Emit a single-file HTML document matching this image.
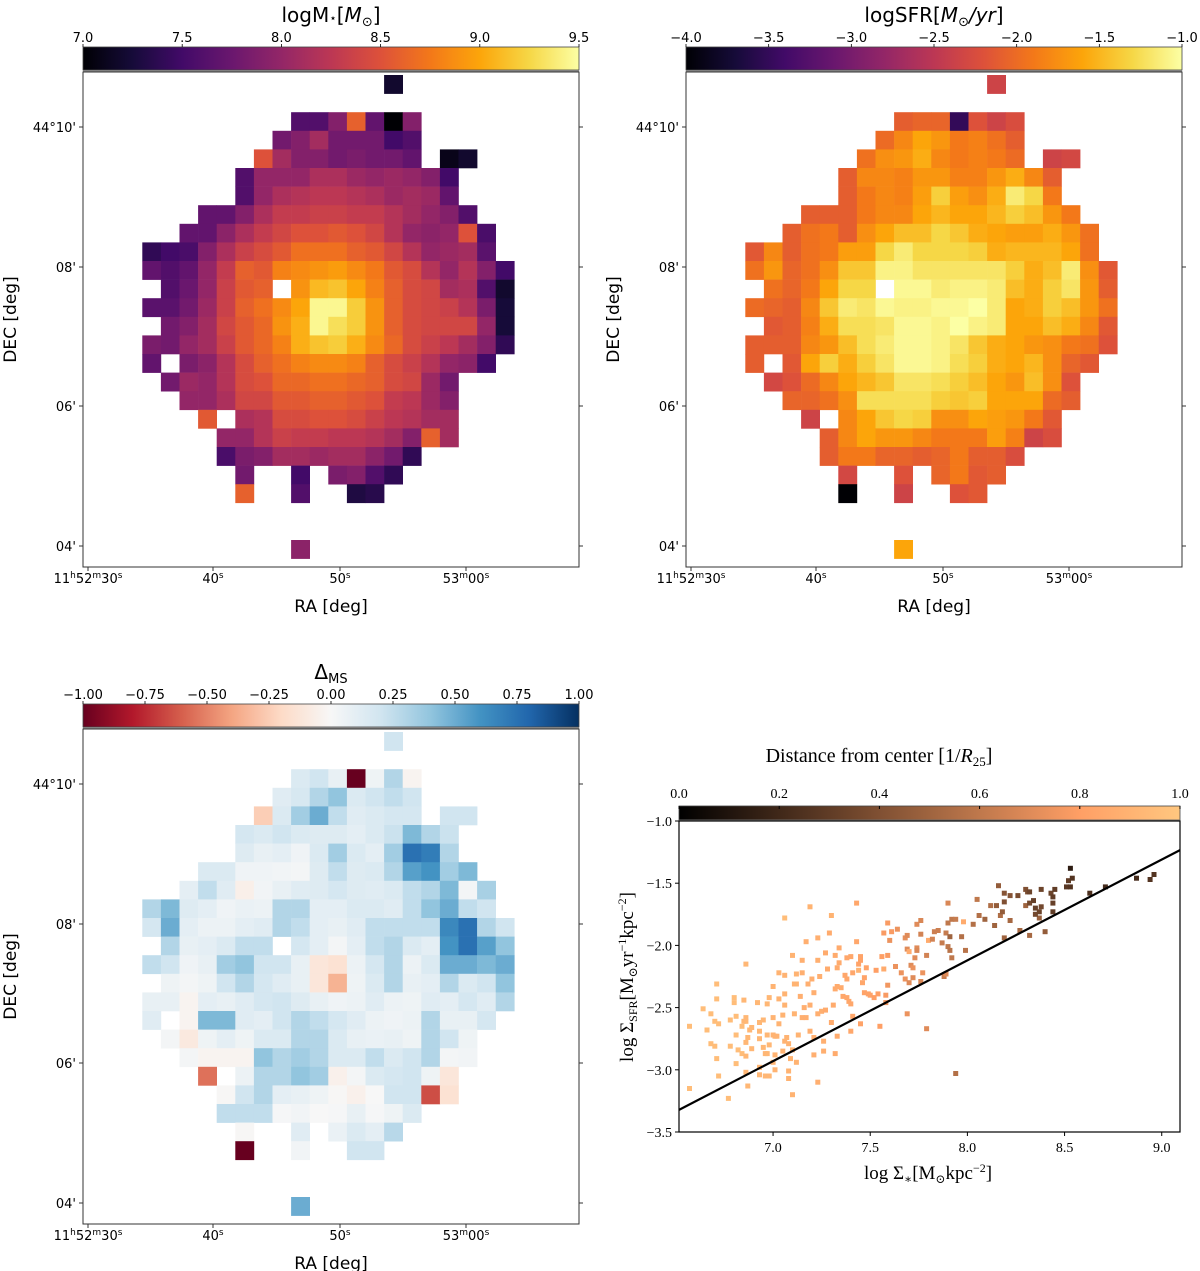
<!DOCTYPE html>
<html><head><meta charset="utf-8"><style>
body{margin:0;background:#fff}
svg{display:block}
.t{font-family:"DejaVu Sans","Liberation Sans",sans-serif;fill:#000}
.s{font-family:"Liberation Serif","DejaVu Serif",serif;fill:#000}
</style></head><body>
<svg id="fig" width="1200" height="1271" viewBox="0 0 1200 1271" xmlns="http://www.w3.org/2000/svg">
<defs id="defs"></defs>
</svg>
<script>
const _=null;
// ---------- map data: rows of [startColumn, values] ----------
const massRows=[[13,[7.2]],[0,[]],[8,[7.6,7.6,7.9,8.6,7.7,7.0,7.9]],[7,[7.8,7.9,8.1,7.8,7.8,7.8,7.5,7.6]],
[6,[8.5,8.1,7.9,7.9,7.8,7.85,7.8,7.8,7.7,_,7.1,7.2]],
[5,[7.6,8.0,8.0,8.0,8.15,8.15,8.05,8.0,8.05,8.0,7.9,7.5]],
[5,[7.6,8.0,8.15,8.2,8.25,8.25,8.2,8.15,8.05,8.1,8.05,7.7]],
[3,[7.7,7.7,7.9,8.15,8.3,8.3,8.35,8.35,8.3,8.3,8.2,8.1,8.0,7.9,7.6]],
[2,[7.7,7.7,7.95,8.15,8.3,8.4,8.5,8.5,8.55,8.5,8.4,8.2,8.0,7.95,8.0,8.5,7.55]],
[0,[7.4,7.5,7.55,7.9,8.15,8.35,8.45,8.55,8.7,8.7,8.7,8.6,8.55,8.4,8.2,8.0,8.05,8.1,7.65]],
[0,[7.7,7.6,7.7,8.0,8.3,8.6,8.55,8.8,8.85,8.9,8.95,8.85,8.75,8.55,8.45,8.2,8.0,8.2,7.9,7.5]],
[0,[_,7.6,7.75,8.0,8.35,8.55,8.6,_,8.9,9.1,9.15,9.0,8.8,8.6,8.45,8.4,8.1,8.15,7.6,7.2]],
[0,[7.65,7.65,7.8,8.05,8.35,8.6,8.7,8.85,9.0,9.45,9.45,9.2,8.9,8.6,8.45,8.4,8.35,8.2,7.85,7.25]],
[0,[_,7.8,7.9,8.1,8.4,8.55,8.65,8.9,9.05,9.45,9.3,9.2,8.9,8.6,8.45,8.4,8.4,8.4,8.0,7.25]],
[0,[7.85,7.8,8.0,8.1,8.35,8.55,8.65,8.8,9.05,9.15,9.2,9.05,8.85,8.65,8.45,8.35,8.25,8.1,7.9,7.4]],
[0,[7.7,_,7.85,7.95,8.2,8.45,8.6,8.7,8.8,8.85,8.85,8.8,8.6,8.45,8.35,8.2,8.0,7.95,7.5]],
[1,[7.8,8.05,8.0,8.2,8.45,8.5,8.65,8.65,8.7,8.7,8.65,8.6,8.45,8.4,8.05,7.8]],
[2,[8.0,8.0,8.15,8.4,8.4,8.55,8.55,8.6,8.6,8.55,8.5,8.3,8.25,8.05,7.9]],
[3,[8.55,_,8.15,8.2,8.45,8.45,8.5,8.5,8.45,8.35,8.25,8.2,8.1,8.1]],
[4,[8.0,8.0,8.2,8.35,8.3,8.3,8.25,8.25,8.2,8.1,7.9,8.6,8.1]],
[4,[7.55,7.85,7.9,8.1,8.1,8.05,8.1,8.1,7.95,7.8,7.4]],
[5,[7.8,_,_,7.5,_,7.85,7.9,7.6,7.4]],
[5,[8.6,_,_,7.6,_,_,7.3,7.35]],[0,[]],[0,[]],[8,[7.95]]];
const sfrRows=[[13,[-2.35]],[0,[]],[8,[-2.1,-2.05,-2.05,-3.5,-2.2,-2.35,-2.25]],[7,[-2.0,-1.8,-1.6,-1.7,-1.9,-1.85,-1.95,-2.1]],
[6,[-1.95,-1.75,-1.7,-1.55,-1.8,-1.9,-1.85,-1.9,-2.0,_,-2.35,-2.3]],
[5,[-2.1,-1.8,-1.8,-1.85,-1.7,-1.7,-1.85,-1.85,-1.7,-1.55,-1.8,-2.1]],
[5,[-2.1,-1.9,-1.8,-1.85,-1.65,-1.35,-1.65,-1.75,-1.55,-1.15,-1.3,-1.9]],
[3,[-2.1,-2.1,-2.1,-1.9,-1.8,-1.8,-1.6,-1.5,-1.6,-1.6,-1.5,-1.35,-1.45,-1.7,-1.9]],
[2,[-2.1,-1.95,-1.9,-2.1,-1.75,-1.6,-1.45,-1.45,-1.3,-1.4,-1.55,-1.6,-1.65,-1.65,-1.55,-1.7,-1.95]],
[0,[-2.15,-1.8,-2.1,-1.95,-1.9,-1.65,-1.65,-1.3,-1.15,-1.3,-1.3,-1.3,-1.35,-1.55,-1.5,-1.5,-1.5,-1.6,-1.95]],
[0,[-1.95,-1.7,-2.05,-1.95,-1.75,-1.4,-1.4,-1.1,-1.1,-1.2,-1.2,-1.2,-1.2,-1.2,-1.35,-1.55,-1.45,-1.15,-1.75,-2.15]],
[0,[_,-1.95,-2.05,-1.9,-1.6,-1.3,-1.3,_,-1.05,-1.05,-1.15,-1.1,-1.1,-1.15,-1.45,-1.55,-1.35,-1.2,-1.7,-2.1]],
[0,[-2.0,-2.05,-2.1,-1.8,-1.4,-1.15,-1.2,-1.05,-1.1,-1.1,-1.05,-1.05,-1.0,-1.15,-1.6,-1.55,-1.35,-1.45,-1.7,-1.95]],
[0,[_,-2.15,-2.1,-1.85,-1.55,-1.25,-1.25,-1.2,-1.05,-1.05,-1.1,-1.0,-1.1,-1.15,-1.6,-1.6,-1.45,-1.55,-1.8,-2.15]],
[0,[-2.1,-2.1,-2.1,-1.8,-1.7,-1.45,-1.25,-1.15,-1.05,-1.05,-1.1,-1.2,-1.4,-1.55,-1.6,-1.7,-1.75,-1.9,-1.95,-2.2]],
[0,[-2.1,_,-2.15,-1.6,-1.35,-1.55,-1.35,-1.2,-1.05,-1.05,-1.1,-1.25,-1.35,-1.55,-1.6,-1.5,-1.75,-2.05,-2.15]],
[1,[-2.3,-2.2,-2.0,-1.8,-1.6,-1.5,-1.4,-1.2,-1.2,-1.25,-1.35,-1.45,-1.6,-1.7,-1.45,-1.75,-2.2]],
[2,[-2.05,-2.05,-1.95,-1.75,-1.25,-1.25,-1.25,-1.25,-1.35,-1.4,-1.35,-1.6,-1.6,-1.6,-2.0,-2.1]],
[3,[-2.35,_,-1.8,-1.6,-1.4,-1.3,-1.35,-1.75,-1.75,-1.6,-1.65,-1.7,-1.9,-2.15]],
[4,[-2.1,-1.8,-1.6,-1.7,-1.7,-1.8,-1.9,-1.9,-1.9,-1.65,-1.85,-2.35,-2.25]],
[4,[-2.1,-1.9,-1.9,-2.05,-2.05,-2.1,-2.05,-1.9,-2.1,-2.1,-2.25]],
[5,[-2.3,_,_,-2.2,_,-2.05,-1.9,-2.15,-2.1]],
[5,[-4.0,_,_,-2.35,_,_,-2.2,-2.15]],[0,[]],[0,[]],[8,[-1.6]]];
const dmsRows=[[13,[0.2]],[0,[]],[8,[0.15,0.2,0.08,-1.0,0.05,0.3,-0.03]],[7,[0.12,0.17,0.3,0.4,0.15,0.2,0.25,0.2]],
[6,[-0.25,0.15,0.35,0.5,0.25,0.12,0.15,0.18,0.18,_,0.2,0.2]],
[5,[0.18,0.15,0.2,0.15,0.13,0.13,0.1,0.15,0.22,0.45,0.3,0.22]],
[5,[0.13,0.08,0.1,0.04,0.15,0.35,0.15,0.1,0.35,0.75,0.7,0.3]],
[3,[0.15,0.15,0.04,0.04,0.03,0.02,0.13,0.25,0.13,0.15,0.3,0.55,0.6,0.35,0.45]],
[2,[0.1,0.25,0.12,-0.06,0.03,0.08,0.12,0.13,0.18,0.13,0.12,0.15,0.25,0.3,0.45,0.02,0.33]],
[0,[0.3,0.45,0.13,0.1,0.04,0.07,0.06,0.3,0.3,0.1,0.1,0.15,0.15,0.12,0.25,0.4,0.5,0.25,0.2]],
[0,[0.18,0.5,0.1,0.06,0.06,0.1,0.12,0.3,0.25,0.1,0.08,0.12,0.25,0.25,0.25,0.25,0.65,0.75,0.3,0.2]],
[0,[_,0.3,0.08,0.1,0.15,0.25,0.25,_,0.18,0.1,0.02,0.1,0.25,0.3,0.15,0.1,0.6,0.75,0.55,0.4]],
[0,[0.25,0.2,0.04,0.08,0.35,0.4,0.2,0.2,0.08,-0.12,-0.15,0.06,0.18,0.3,0.06,0.15,0.5,0.5,0.45,0.5]],
[0,[_,0.05,0.02,0.05,0.2,0.3,0.18,0.12,0.08,-0.12,-0.35,0.05,0.15,0.3,0.08,0.1,0.3,0.15,0.2,0.4]],
[0,[0.08,0.08,-0.03,0.1,0.08,0.12,0.18,0.2,0.13,0.08,0.04,0.06,0.12,0.06,0.05,0.12,0.1,0.18,0.12,0.3]],
[0,[0.12,_,-0.03,0.45,0.45,0.12,0.1,0.2,0.3,0.25,0.18,0.12,0.06,0.04,0.06,0.3,0.08,0.08,0.18]],
[1,[0.02,-0.1,0.05,0.1,0.05,0.15,0.15,0.3,0.3,0.15,0.08,0.07,0.08,0.05,0.3,0.2,0.05]],
[2,[0.02,-0.03,-0.03,-0.03,0.4,0.3,0.35,0.3,0.15,0.15,0.25,0.15,0.2,0.3,0.02,0.03]],
[3,[-0.55,_,0.06,0.3,0.3,0.4,0.35,-0.05,0.02,0.15,0.18,0.2,0.05,-0.12]],
[4,[-0.01,0.2,0.3,0.1,0.08,0.05,-0.01,-0.05,0.0,0.2,0.2,-0.65,-0.15]],
[4,[0.25,0.25,0.25,0.01,0.03,0.0,0.01,0.08,0.01,0.05,0.15]],
[5,[-0.01,_,_,0.12,_,0.07,0.15,0.1,0.28]],
[5,[-1.0,_,_,0.03,_,_,0.2,0.2]],[0,[]],[0,[]],[8,[0.5]]];

// ---------- scatter data ----------
const sx=[6.57,6.57,6.64,6.66,6.68,6.68,6.70,6.71,6.71,6.70,6.72,6.71,6.72,6.77,6.78,6.78,6.80,6.80,6.81,6.81,6.81,6.82,6.84,6.84,6.85,6.86,6.86,6.85,6.86,6.87,6.86,6.86,6.86,6.87,6.88,6.89,6.89,6.92,6.93,6.93,6.93,6.93,6.93,6.95,6.95,6.96,6.96,6.97,6.97,6.97,6.98,6.98,6.98,7.00,7.00,7.00,7.00,7.01,7.01,7.01,7.02,7.03,7.03,7.03,7.05,7.06,7.06,7.06,7.06,7.05,7.06,7.07,7.08,7.08,7.08,7.09,7.10,7.10,7.10,7.11,7.11,7.12,7.12,7.12,7.13,7.14,7.15,7.15,7.15,7.16,7.17,7.17,7.18,7.19,7.19,7.19,7.20,7.21,7.21,7.21,7.23,7.23,7.23,7.24,7.23,7.25,7.26,7.26,7.27,7.27,7.28,7.29,7.30,7.30,7.31,7.32,7.32,7.32,7.33,7.33,7.33,7.34,7.34,7.35,7.36,7.37,7.38,7.38,7.38,7.39,7.40,7.40,7.40,7.41,7.41,7.43,7.43,7.44,7.44,7.45,7.45,7.45,7.46,7.47,7.47,7.48,7.49,7.50,7.52,7.53,7.54,7.55,7.56,7.57,7.57,7.58,7.58,7.59,7.59,7.59,7.60,7.61,7.63,7.64,7.66,7.68,7.68,7.69,7.69,7.69,7.70,7.70,7.71,7.72,7.72,7.73,7.74,7.74,7.74,7.76,7.76,7.77,7.76,7.79,7.79,7.80,7.82,7.83,7.85,7.87,7.88,7.89,7.89,7.90,7.90,7.90,7.91,7.91,7.92,7.92,7.94,7.94,7.97,7.98,7.99,8.03,8.05,8.06,8.09,8.12,8.17,8.22,8.27,8.32,8.19,8.30,8.37,8.14,8.40,8.15,8.16,8.18,8.19,8.19,8.22,8.26,8.30,8.31,8.32,8.32,8.34,8.35,8.35,8.37,8.38,8.38,8.43,8.44,8.44,8.44,8.45,8.51,8.52,8.53,8.54,8.63,8.71,8.87,8.94,8.96,8.53];
const sy=[-2.65,-3.15,-2.51,-2.68,-2.79,-2.55,-2.81,-2.31,-2.43,-2.61,-2.63,-2.91,-3.05,-3.23,-2.81,-2.60,-2.42,-2.46,-2.57,-2.72,-2.95,-2.84,-2.65,-2.87,-2.44,-2.15,-2.58,-2.61,-2.61,-2.74,-2.78,-2.89,-3.02,-3.13,-2.68,-2.66,-2.83,-2.46,-2.62,-2.69,-2.75,-2.98,-3.04,-2.82,-2.60,-2.87,-3.05,-2.47,-2.72,-2.87,-3.05,-2.42,-2.80,-2.33,-2.58,-2.72,-2.94,-3.00,-2.73,-2.88,-2.73,-2.63,-2.43,-2.22,-2.56,-2.39,-2.48,-1.78,-2.24,-2.85,-2.77,-2.74,-2.79,-3.01,-3.07,-2.91,-2.84,-2.08,-3.20,-2.31,-2.55,-2.94,-2.23,-2.31,-2.72,-2.41,-2.22,-2.12,-2.58,-2.50,-2.58,-1.97,-2.31,-2.69,-2.48,-1.69,-2.27,-2.88,-2.38,-2.74,-2.55,-2.12,-1.94,-2.25,-3.10,-2.53,-2.77,-2.85,-2.06,-2.52,-2.19,-1.90,-1.76,-2.62,-2.48,-2.08,-2.35,-2.87,-2.73,-2.18,-2.33,-2.14,-2.02,-2.34,-2.41,-2.24,-2.10,-2.42,-2.27,-2.45,-2.69,-2.09,-2.47,-2.57,-2.22,-1.66,-1.97,-2.20,-2.15,-2.12,-2.63,-2.09,-2.30,-2.38,-2.26,-2.18,-2.39,-2.40,-2.42,-2.20,-2.39,-2.65,-2.09,-2.19,-1.90,-2.40,-2.46,-2.08,-1.82,-2.32,-1.96,-1.89,-2.17,-1.87,-2.22,-1.94,-2.27,-1.92,-2.55,-2.03,-2.05,-2.30,-2.16,-2.18,-2.26,-2.10,-1.83,-2.02,-2.04,-2.29,-1.80,-2.22,-1.91,-2.67,-2.08,-1.96,-1.95,-1.89,-1.88,-1.98,-2.25,-1.90,-2.23,-2.01,-1.66,-1.82,-1.93,-2.04,-2.10,-1.79,-1.79,-3.03,-1.93,-1.81,-2.04,-1.83,-1.63,-1.76,-1.79,-1.68,-1.76,-1.80,-1.88,-1.92,-1.94,-1.68,-1.78,-1.84,-1.89,-1.68,-1.52,-1.73,-1.58,-1.65,-1.60,-1.60,-1.55,-1.57,-1.66,-1.57,-1.64,-1.75,-1.70,-1.73,-1.69,-1.55,-1.58,-1.66,-1.61,-1.73,-1.55,-1.53,-1.48,-1.53,-1.46,-1.58,-1.53,-1.46,-1.47,-1.43,-1.38,-2.90];
const sd=[0.95,0.95,0.95,0.95,0.95,0.95,0.95,0.95,0.95,0.95,0.95,0.95,0.95,0.95,0.95,0.95,0.95,0.95,0.95,0.95,0.95,0.95,0.95,0.95,0.92,0.92,0.92,0.92,0.92,0.92,0.92,0.92,0.92,0.92,0.92,0.92,0.92,0.92,0.92,0.92,0.92,0.92,0.92,0.92,0.92,0.92,0.92,0.92,0.92,0.92,0.92,0.92,0.92,0.9,0.9,0.9,0.9,0.9,0.9,0.9,0.9,0.9,0.9,0.9,0.9,0.9,0.9,0.95,0.9,0.9,0.9,0.9,0.9,0.9,0.9,0.9,0.9,0.9,0.9,0.9,0.9,0.9,0.9,0.9,0.9,0.88,0.88,0.88,0.88,0.88,0.88,0.88,0.88,0.88,0.88,0.9,0.88,0.88,0.88,0.88,0.88,0.88,0.88,0.88,0.88,0.88,0.88,0.88,0.86,0.86,0.86,0.86,0.9,0.86,0.86,0.86,0.86,0.86,0.86,0.86,0.86,0.86,0.86,0.86,0.84,0.84,0.84,0.84,0.84,0.84,0.84,0.84,0.84,0.84,0.84,0.84,0.84,0.9,0.82,0.82,0.82,0.82,0.84,0.82,0.82,0.82,0.82,0.82,0.8,0.8,0.8,0.8,0.8,0.86,0.78,0.78,0.74,0.78,0.78,0.76,0.74,0.78,0.74,0.74,0.74,0.72,0.74,0.7,0.74,0.7,0.86,0.7,0.7,0.74,0.7,0.7,0.7,0.7,0.68,0.68,0.68,0.74,0.66,0.7,0.66,0.86,0.66,0.64,0.64,0.62,0.62,0.62,0.7,0.6,0.68,0.6,0.5,0.58,0.6,0.6,0.62,0.56,0.56,0.86,0.58,0.56,0.6,0.56,0.5,0.55,0.55,0.52,0.52,0.52,0.5,0.5,0.48,0.5,0.46,0.46,0.46,0.46,0.42,0.4,0.42,0.38,0.4,0.38,0.36,0.34,0.32,0.36,0.32,0.34,0.36,0.34,0.34,0.32,0.3,0.3,0.3,0.28,0.3,0.26,0.26,0.24,0.22,0.22,0.26,0.26,0.14,0.1,0.06,0.05,0.05,0.85];
const sXTicks=[7.0,7.5,8.0,8.5,9.0];
const sYTicks=[-1.0,-1.5,-2.0,-2.5,-3.0,-3.5];
const sCbTicks=[0.0,0.2,0.4,0.6,0.8,1.0];
const fitSlope=0.81, fitIntercept=-8.6;

// ---------- colormaps ----------
const INFERNO=["#000004","#160b39","#420a68","#6a176e","#932667","#bc3754","#dd513a","#f37819","#fca50a","#f6d746","#fcffa4"];
const RDBU=["#67001f","#b2182b","#d6604d","#f4a582","#fddbc7","#f7f7f7","#d1e5f0","#92c5de","#4393c3","#2166ac","#053061"];
function hex(h){return [parseInt(h.slice(1,3),16),parseInt(h.slice(3,5),16),parseInt(h.slice(5,7),16)];}
function cmap(stops,t){t=Math.max(0,Math.min(1,t));const n=stops.length-1;const i=Math.min(n-1,Math.floor(t*n));const f=t*n-i;const a=hex(stops[i]),b=hex(stops[i+1]);return `rgb(${a.map((v,k)=>Math.round(v+(b[k]-v)*f)).join(',')})`;}
function copper(t){return `rgb(${Math.round(255*Math.min(1,1.25*t))},${Math.round(255*0.7812*t)},${Math.round(255*0.4975*t)})`;}

const SVGNS="http://www.w3.org/2000/svg";
const fig=document.getElementById('fig');
function el(tag,attrs,parent){const e=document.createElementNS(SVGNS,tag);for(const k in attrs)e.setAttribute(k,attrs[k]);(parent||fig).appendChild(e);return e;}
function txt(x,y,s,cls,size,anchor,parent){const t=el('text',{x:x,y:y,'class':cls,'font-size':size,'text-anchor':anchor||'middle'},parent);t.textContent=s;return t;}

// ---------- map panel ----------
let gid=0;
function mapPanel(dx,dy,rows,vmin,vmax,stops,ticks,tickFmt,title,name){
  const g=el('g',{});
  
  
  const L=83+dx,R=579+dx,T=72+dy,B=567+dy;
  // colorbar
  const id='cb'+(gid++);
  const lg=el('linearGradient',{id:id,x1:'0',x2:'1',y1:'0',y2:'0'},document.getElementById('defs'));
  for(let i=0;i<=20;i++)el('stop',{offset:i/20,'stop-color':cmap(stops,i/20)},lg);
  const cb=el('rect',{x:L,y:47+dy,width:R-L,height:23,fill:`url(#${id})`,stroke:'#444','stroke-width':0.8},g);
  
  
  el('line',{x1:L,x2:R,y1:71+dy,y2:71+dy,stroke:'#888','stroke-width':1.5},g);
  ticks.forEach(v=>{const x=L+(v-vmin)/(vmax-vmin)*(R-L);
    el('line',{x1:x,x2:x,y1:47+dy,y2:44+dy,stroke:'#000','stroke-width':0.8},g);
    const t=txt(x,42+dy,tickFmt(v),'t',13,'middle',g);
    
    });
  title(g,(L+R)/2,22+dy);
  // cells
  const cw=18.6,x0=142.3+dx,y0=75+dy;
  rows.forEach((r,ri)=>{r[1].forEach((v,k)=>{if(v===null)return;
    const c=el('rect',{x:(x0+(r[0]+k)*cw).toFixed(1),y:(y0+ri*cw).toFixed(1),width:cw+0.3,height:cw+0.3,fill:cmap(stops,(v-vmin)/(vmax-vmin))},g);
    
    });});
  // axes frame
  el('rect',{x:L,y:T,width:R-L,height:B-T,fill:'none',stroke:'#333','stroke-width':1},g);
  const yt=[[127,"44°10'"],[267,"08'"],[406,"06'"],[546,"04'"]];
  yt.forEach(([y,s])=>{el('line',{x1:L,x2:L-4,y1:y+dy,y2:y+dy,stroke:'#333'},g);el('line',{x1:R,x2:R+4,y1:y+dy,y2:y+dy,stroke:'#333'},g);
    const t=txt(L-7,y+dy+5,s,'t',13,'end',g);
    
    });
  const xt=[[88,['11','h','52','m','30','s']],[213,['40','s']],[340,['50','s']],[466,['53','m','00','s']]];
  xt.forEach(([x,parts])=>{el('line',{x1:x+dx,x2:x+dx,y1:B,y2:B+4,stroke:'#333'},g);
    const t=el('text',{x:x+dx,y:B+16,'class':'t','font-size':13,'text-anchor':'middle'},g);
    
    
    parts.forEach((p,i)=>{const s=el('tspan',{},t);if(i%2){s.setAttribute('font-size',9);s.setAttribute('dy',-5);}else if(i>0){s.setAttribute('dy',5);}s.textContent=p;});});
  const xl=txt((L+R)/2,B+45,'RA [deg]','t',17,'middle',g);
  
  
  const yl=txt(0,0,'DEC [deg]','t',17,'middle',g);
  yl.setAttribute('transform',`translate(${16+dx},${(T+B)/2}) rotate(-90)`);
  
  
}
function fmt1(v){return v.toFixed(1).replace('-','\u2212');}
function fmt2(v){return v.toFixed(2).replace('-','\u2212');}

mapPanel(0,0,massRows,7.0,9.5,INFERNO,[7.0,7.5,8.0,8.5,9.0,9.5],fmt1,(g,x,y)=>{
  const t=el('text',{x:x,y:y,'class':'t','font-size':20,'text-anchor':'middle'},g);
  
  
  t.innerHTML='logM<tspan font-size="12">\u22c6</tspan>[<tspan font-style="italic">M</tspan><tspan font-size="13" dy="4">\u2299</tspan><tspan dy="-4">]</tspan>';
},'stellar-mass-map');
mapPanel(603,0,sfrRows,-4.0,-1.0,INFERNO,[-4.0,-3.5,-3.0,-2.5,-2.0,-1.5,-1.0],fmt1,(g,x,y)=>{
  const t=el('text',{x:x,y:y,'class':'t','font-size':20,'text-anchor':'middle'},g);
  
  
  t.innerHTML='logSFR[<tspan font-style="italic">M</tspan><tspan font-size="13" dy="4">\u2299</tspan><tspan dy="-4" font-style="italic">/yr</tspan>]';
},'sfr-map');
mapPanel(0,657,dmsRows,-1.0,1.0,RDBU,[-1.0,-0.75,-0.5,-0.25,0,0.25,0.5,0.75,1.0],fmt2,(g,x,y)=>{
  const t=el('text',{x:x,y:y,'class':'t','font-size':20,'text-anchor':'middle'},g);
  
  
  t.innerHTML='\u0394<tspan font-size="13" dy="4">MS</tspan>';
},'delta-ms-map');

// ---------- scatter panel ----------
const SL=679,SR=1180,ST=821,SB=1132,XMIN=6.516,XMAX=9.094,YMIN=-3.5,YMAX=-1.0;
function px(x){return SL+(x-XMIN)/(XMAX-XMIN)*(SR-SL);}
function py(y){return SB-(y-YMIN)/(YMAX-YMIN)*(SB-ST);}
const sg=el('g',{});


const cg=el('linearGradient',{id:'cop',x1:'0',x2:'1',y1:'0',y2:'0'},document.getElementById('defs'));
for(let i=0;i<=20;i++)el('stop',{offset:i/20,'stop-color':copper(i/20)},cg);
const scb=el('rect',{x:SL,y:806,width:SR-SL,height:14,fill:'url(#cop)',stroke:'#444','stroke-width':0.8},sg);


el('line',{x1:SL,x2:SR,y1:820.5,y2:820.5,stroke:'#888','stroke-width':1.5},sg);
sCbTicks.forEach(v=>{const x=SL+v*(SR-SL);el('line',{x1:x,x2:x,y1:806,y2:809,stroke:'#000'},sg);
  const t=txt(x,798,v.toFixed(1),'s',14,'middle',sg);
  
  });
const ct=el('text',{x:879,y:762,'class':'s','font-size':20,'text-anchor':'middle'},sg);


ct.innerHTML='Distance from center [1/<tspan font-style="italic">R</tspan><tspan font-size="13" dy="4">25</tspan><tspan dy="-4">]</tspan>';
sx.forEach((x,i)=>{const m=el('rect',{x:(px(x)-2.5).toFixed(1),y:(py(sy[i])-2.5).toFixed(1),width:5,height:5,fill:copper(sd[i])},sg);
  
  });
const fl=el('line',{x1:SL,y1:py(fitSlope*XMIN+fitIntercept),x2:SR,y2:py(fitSlope*XMAX+fitIntercept),stroke:'#000','stroke-width':2.2},sg);


el('rect',{x:SL,y:ST,width:SR-SL,height:SB-ST,fill:'none',stroke:'#000','stroke-width':1.2},sg);
sXTicks.forEach(v=>{const x=px(v);el('line',{x1:x,x2:x,y1:SB,y2:SB+4,stroke:'#000'},sg);
  const t=txt(x,1152,v.toFixed(1),'s',14,'middle',sg);
  
  });
sYTicks.forEach(v=>{const y=py(v);el('line',{x1:SL,x2:SL-4,y1:y,y2:y,stroke:'#000'},sg);
  const t=txt(SL-7,y+5,v.toFixed(1).replace('-','\u2212'),'s',14,'end',sg);
  
  });
const sxl=el('text',{x:928,y:1179,'class':'s','font-size':19,'text-anchor':'middle'},sg);


sxl.innerHTML='log \u03a3<tspan font-size="12" dy="4">\u2217</tspan><tspan dy="-4">[M</tspan><tspan font-size="12" dy="4">\u2299</tspan><tspan dy="-4">kpc</tspan><tspan font-size="12" dy="-7">\u22122</tspan><tspan dy="7">]</tspan>';
const syl=el('text',{x:0,y:0,'class':'s','font-size':19,'text-anchor':'middle'},sg);
syl.setAttribute('transform','translate(633,977) rotate(-90)');


syl.innerHTML='log \u03a3<tspan font-size="12" dy="4">SFR</tspan><tspan dy="-4">[M</tspan><tspan font-size="12" dy="4">\u2299</tspan><tspan dy="-4">yr</tspan><tspan font-size="12" dy="-7">\u22121</tspan><tspan dy="7">kpc</tspan><tspan font-size="12" dy="-7">\u22122</tspan><tspan dy="7">]</tspan>';
</script>
</body></html>
